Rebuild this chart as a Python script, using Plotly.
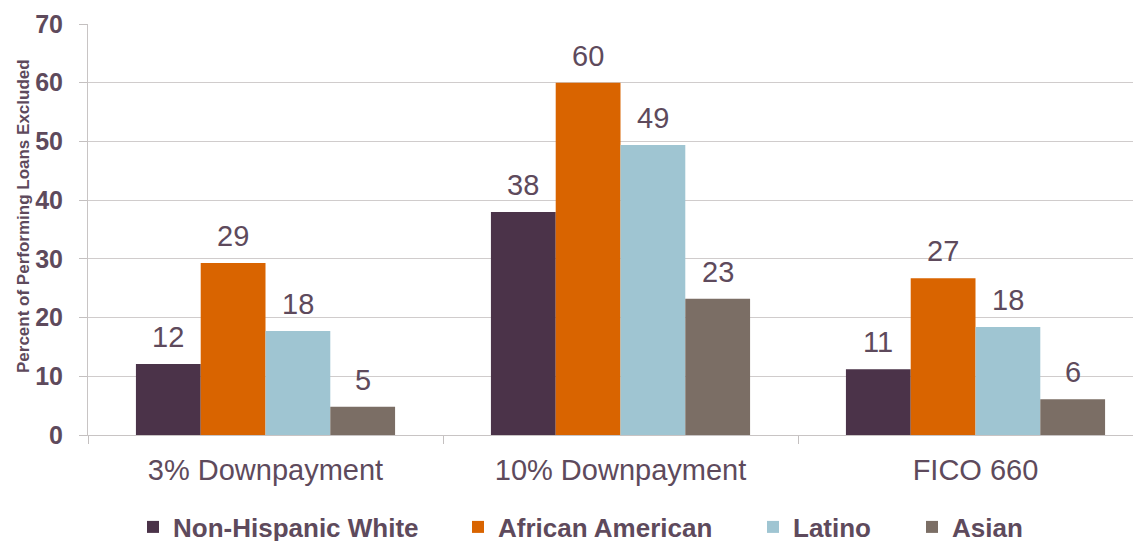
import plotly.graph_objects as go

categories = ["3% Downpayment", "10% Downpayment", "FICO 660"]
series_names = ["Non-Hispanic White", "African American", "Latino", "Asian"]
white = [12.1, 38.0, 11.2]
african_american = [29.3, 60.0, 26.7]
latino = [17.7, 49.4, 18.4]
asian = [4.8, 23.2, 6.1]
white_labels = ["12", "38", "11"]
aa_labels = ["29", "60", "27"]
latino_labels = ["18", "49", "18"]
asian_labels = ["5", "23", "6"]

colors = ["#4b3349", "#d96400", "#9fc5d2", "#7b6e65"]
text_color = "#5e4a5c"

series = [white, african_american, latino, asian]
labels = [white_labels, aa_labels, latino_labels, asian_labels]

# page body has an 8px margin; layout numbers below are in figure coordinates
OFF = 8
W, H = 1141, 541
L, T = 88 - OFF, 24 - OFF
B = H - (435 - OFF)
R = 0
pw = W - L - R
ph = H - T - B
group_px = 355.0
bargap = 0.27
bar_px = group_px * (1 - bargap) / len(series)
legend_text_px = [173, 498, 793, 952]  # window x of legend texts

fig = go.Figure()
legend_cfg = {}
annotations = []
for i, (name, vals, lab, col) in enumerate(zip(series_names, series, labels, colors)):
    lname = "legend" if i == 0 else f"legend{i+1}"
    fig.add_trace(go.Bar(
        x=categories, y=vals, name=name, marker_color=col,
        marker_line_width=0, legend=lname,
    ))
    for c, v, t in zip(categories, vals, lab):
        annotations.append(dict(
            x=c, y=v, xref="x", yref="y", text=t, showarrow=False,
            xshift=(i - (len(series) - 1) / 2) * bar_px, yshift=9,
            yanchor="bottom", xanchor="center",
            font=dict(family="Liberation Sans, Arial", size=29, color=text_color),
        ))
    legend_cfg[lname] = dict(
        orientation="h", x=(legend_text_px[i] - OFF - 40 - L) / pw, xanchor="left",
        y=(T + ph - (527 - OFF)) / ph, yanchor="middle", bgcolor="rgba(0,0,0,0)",
        font=dict(family="Liberation Sans, Arial", size=26, color=text_color, weight="bold"),
        itemwidth=30,
    )

annotations.append(dict(
    text="<b>Percent of Performing Loans Excluded</b>", textangle=-90, showarrow=False,
    xref="paper", yref="paper",
    x=(23 - OFF - L) / pw, y=(T + ph - (216 - OFF)) / ph,
    xanchor="center", yanchor="middle",
    font=dict(family="Liberation Sans, Arial", size=17, color=text_color),
))

fig.update_layout(
    width=W, height=H,
    margin=dict(l=L, r=R, t=T, b=B, autoexpand=False),
    paper_bgcolor="white", plot_bgcolor="white",
    barmode="group", bargap=bargap, bargroupgap=0,
    font=dict(family="Liberation Sans, Arial", color=text_color),
    showlegend=True,
    annotations=annotations,
    xaxis=dict(
        range=[-0.5, -0.5 + pw / group_px], automargin=False,
        tickson="boundaries", ticks="outside", ticklen=8, tickcolor="#c4c0c0",
        showline=True, linecolor="#c8c4c4", linewidth=1,
        tickfont=dict(size=29, color=text_color), ticklabelstandoff=9,
    ),
    yaxis=dict(
        range=[0, 70], dtick=10, ticks="outside", ticklen=8, tickcolor="#c4c0c0",
        showgrid=True, gridcolor="#d0cccc", gridwidth=1, automargin=False,
        showline=True, linecolor="#c8c4c4", linewidth=1, zeroline=False,
        tickfont=dict(size=25, color=text_color, weight="bold"), ticklabelstandoff=11,
    ),
    **legend_cfg,
)

fig.write_html("out.html")
